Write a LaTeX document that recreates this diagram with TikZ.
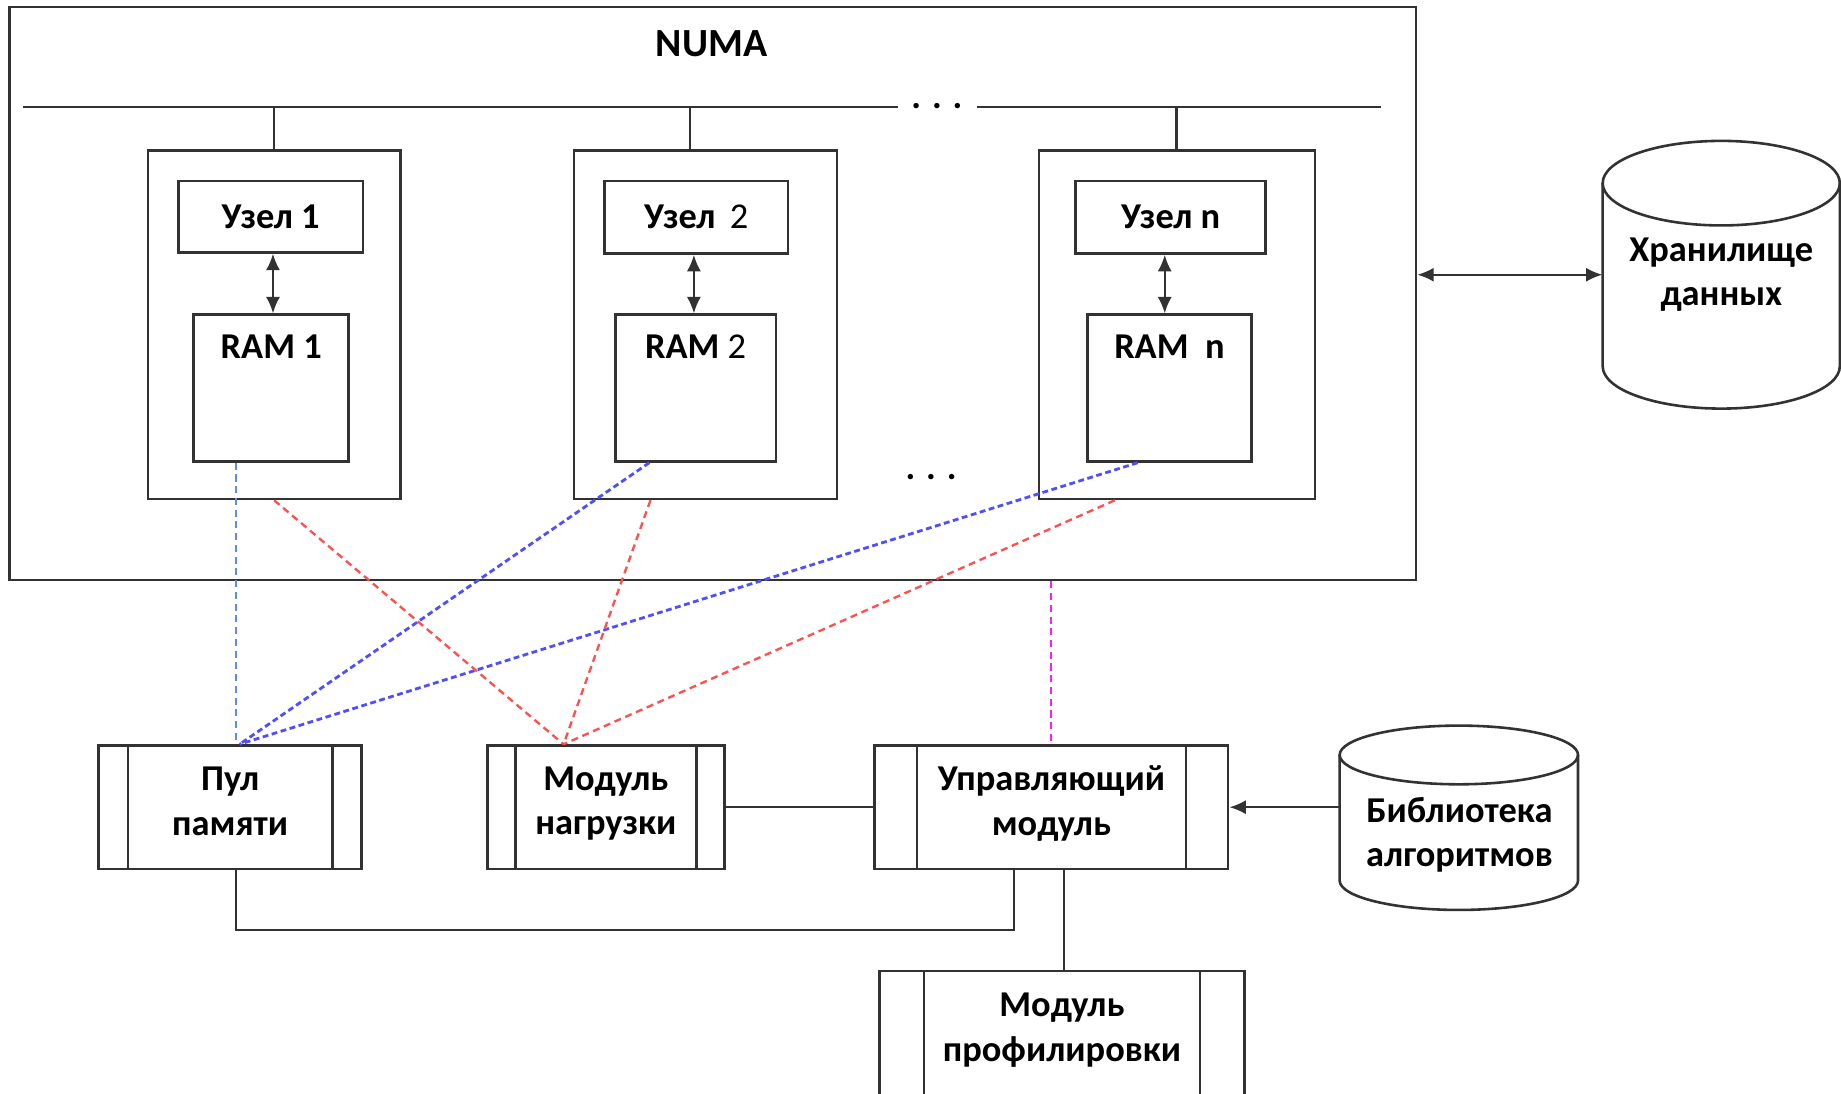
\documentclass[tikz,border=0pt]{standalone}
\usepackage{fontspec}
\setmainfont{Carlito}
\usetikzlibrary{arrows.meta,calc}
\definecolor{edge}{RGB}{50,50,50}
\definecolor{dblue}{RGB}{80,80,250}
\definecolor{lblue}{RGB}{95,135,255}
\definecolor{dred}{RGB}{255,80,80}
\definecolor{dmag}{RGB}{250,30,250}
\begin{document}
\begin{tikzpicture}[x=1pt,y=-1pt,
  boxline/.style={draw=edge,line width=2.2pt,rectangle,inner sep=0pt},
  lbl/.style={font=\fontsize{31}{38}\selectfont\bfseries,align=center,inner sep=0pt},
  dotsl/.style={font=\fontsize{31}{38}\selectfont\bfseries,inner sep=0pt},
  wire/.style={draw=edge,line width=1.8pt},
  cyl/.style={draw=edge,line width=2.2pt},
  tip/.tip={Latex[length=14pt,width=12pt]},
  proc/.style={boxline,path picture={
      \draw[edge,line width=2.2pt] ([xshift=#1]path picture bounding box.north west) -- ([xshift=#1]path picture bounding box.south west);
      \draw[edge,line width=2.2pt] ([xshift=-#1]path picture bounding box.north east) -- ([xshift=-#1]path picture bounding box.south east);}},
  lb/.style={draw=lblue,line width=1.5pt,dash pattern=on 6pt off 4pt},
  db/.style={draw=dblue,line width=2.4pt,dash pattern=on 5pt off 3pt},
  dr/.style={draw=dred,line width=2pt,dash pattern=on 6pt off 4pt},
  dm/.style={draw=dmag,line width=1.8pt,dash pattern=on 6pt off 4pt}]
\clip (0,0) rectangle (1568,931);
\fill[white] (0,0) rectangle (1568,931);

% NUMA system frame and interconnect bus
\node[boxline,minimum width=1198pt,minimum height=488pt] (numa) at (607,250) {};
\node[lbl,font=\fontsize{34}{40}\selectfont\bfseries] (numat) at (606,37) {NUMA};
\coordinate (busA) at (20,91);
\coordinate (busB) at (765,91);
\coordinate (busC) at (832,91);
\coordinate (busD) at (1176,91);
\draw[wire] (busA) -- (busB);
\draw[wire] (busC) -- (busD);
\node[dotsl] (busdots) at (798,90) {. . .};
\node[dotsl] (middots) at (793,406) {. . .};

% node 1
\node[boxline,minimum width=215pt,minimum height=297pt] (n1) at (233.5,276.5) {};
\node[boxline,lbl,minimum width=157pt,minimum height=61pt] (u1) at (230.5,184.5) {Узел 1};
\node[boxline,minimum width=132pt,minimum height=125pt] (r1) at (231,330.5) {};
\node[lbl] (r1t) at ($(r1.north)+(0,28)$) {RAM 1};
\draw[wire,tip-tip] ([xshift=2pt]u1.south) -- ([xshift=2pt]u1.south |- r1.north);
\coordinate (s1) at (233,91);
\draw[wire] (s1) -- (s1 |- n1.north);

% node 2
\node[boxline,minimum width=224pt,minimum height=297pt] (n2) at (601,276.5) {};
\node[boxline,lbl,minimum width=156pt,minimum height=62pt] (u2) at (593,185) {Узел\ \,{\mdseries 2}};
\node[boxline,minimum width=137pt,minimum height=125pt] (r2) at (592.5,330.5) {};
\node[lbl] (r2t) at ($(r2.north)+(0,28)$) {RAM {\mdseries 2}};
\draw[wire,tip-tip] ([xshift=-2pt]u2.south) -- ([xshift=-2pt]u2.south |- r2.north);
\coordinate (s2) at (588,91);
\draw[wire] (s2) -- (s2 |- n2.north);

% node n
\node[boxline,minimum width=235pt,minimum height=297pt] (nn) at (1002.5,276.5) {};
\node[boxline,lbl,minimum width=162pt,minimum height=62pt] (un) at (997,185) {Узел n};
\node[boxline,minimum width=140pt,minimum height=125pt] (rn) at (996,330.5) {};
\node[lbl] (rnt) at ($(rn.north)+(0,28)$) {RAM\ \ n};
\draw[wire,tip-tip] ([xshift=-5pt]un.south) -- ([xshift=-5pt]un.south |- rn.north);
\coordinate (sn) at (1002,91);
\draw[wire] (sn) -- (sn |- nn.north);

% data storage
\node[lbl,minimum width=202pt,minimum height=228pt] (store) at (1466,234) {Хранилище\\данных};
\draw[cyl] (1466,156) ellipse (101 and 36);
\draw[cyl] (1365,156) -- (1365,312) arc (180:0:101 and 36) -- (1567,156);
\draw[wire,tip-tip] (store.west -| numa.east) -- (store.west);

% software modules
\node[proc=25pt,minimum width=224pt,minimum height=105pt,
      label={[lbl,yshift=5pt]center:{Пул\\памяти}}] (pool) at (196,687.5) {};
\node[proc=24pt,minimum width=202pt,minimum height=105pt,
      label={[lbl,yshift=3pt]center:{Модуль\\нагрузки}}] (load) at (516,687.5) {};
\node[proc=36pt,minimum width=301pt,minimum height=105pt,
      label={[lbl,yshift=3pt]center:{Управляющий\\модуль}}] (ctrl) at (895.5,687.5) {};
\node[proc=38pt,minimum width=311pt,minimum height=107pt,
      label={[lbl,yshift=3pt]center:{Модуль\\профилировки}}] (prof) at (904.5,880.5) {};

% algorithm library
\node[inner sep=0pt,minimum width=203pt,minimum height=157pt] (lib) at (1242.5,696.5) {};
\draw[cyl] (1242.5,643) ellipse (101.5 and 25);
\draw[cyl] (1141,643) -- (1141,750) arc (180:0:101.5 and 25) -- (1344,643);
\node[lbl] (libt) at (1243,711) {Библиотека\\алгоритмов};

% solid links between modules
\draw[wire] (load.east) -- (ctrl.west);
\draw[wire,-tip] (ctrl.east -| lib.west) -- (ctrl.east);
\coordinate (jn) at (864,792);
\draw[wire] ([xshift=5pt]pool.south) |- (jn) -- (jn |- ctrl.south);
\draw[wire] ([xshift=10.5pt]ctrl.south) -- ([xshift=10.5pt]ctrl.south |- prof.north);

% memory pool links
\draw[lb] ([xshift=5pt]pool.north |- r1.south) -- ([xshift=5pt]pool.north);
\draw[db] ([xshift=-39.5pt]r2.south) -- ([xshift=8pt]pool.north);
\draw[db] ([xshift=-27pt]rn.south) -- ([xshift=8pt]pool.north);
% load module links
\draw[dr] (n1.south) -- ([xshift=-36pt]load.north);
\draw[dr] ([xshift=-47pt]n2.south) -- ([xshift=-36pt]load.north);
\draw[dr] ([xshift=-53pt]nn.south) -- ([xshift=-36pt]load.north);
% control link
\draw[dm] (ctrl.north |- numa.south) -- (ctrl.north);
\end{tikzpicture}
\end{document}
